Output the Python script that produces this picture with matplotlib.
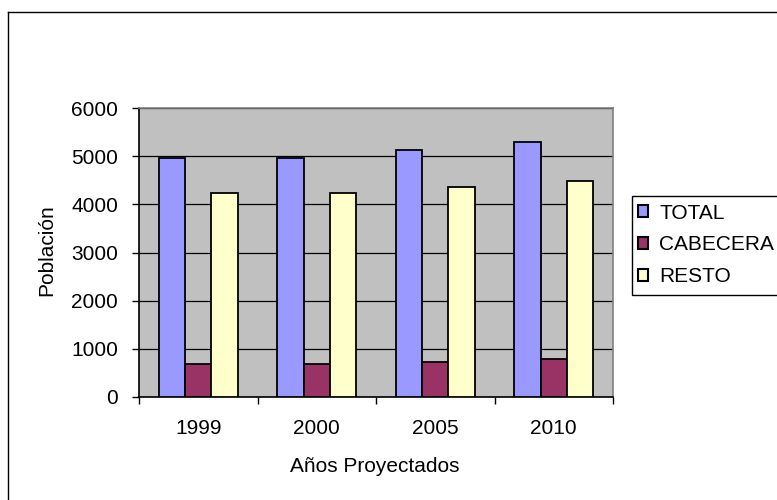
import matplotlib.pyplot as plt
from matplotlib.patches import Rectangle
from matplotlib.lines import Line2D
import numpy as np

plt.rcParams['font.family'] = ['Liberation Sans', 'DejaVu Sans']

years = ['1999', '2000', '2005', '2010']
total = [4958, 4958, 5118, 5284]
cabecera = [695, 695, 720, 784]
resto = [4245, 4245, 4350, 4488]

series = [('TOTAL', total, '#9999FF'),
          ('CABECERA', cabecera, '#993366'),
          ('RESTO', resto, '#FFFFCC')]

W, H = 777, 500
fs = 15

fig = plt.figure(figsize=(7.77, 5.0), dpi=100)
ax = fig.add_axes([139 / W, 1 - 397 / H, (613 - 139) / W, (397 - 108) / H])
ax.set_facecolor('#C0C0C0')

x = np.arange(len(years))
width = 1 / 4.5
for i, (name, vals, color) in enumerate(series):
    ax.bar(x + (i - 1) * width, vals, width, color=color, edgecolor='black',
           linewidth=1.3, label=name, zorder=3)

ax.set_xlim(-0.5, len(years) - 0.5)
ax.set_ylim(0, 6000)
ax.set_yticks(range(0, 6001, 1000))
ax.yaxis.grid(True, color='black', linewidth=0.9, zorder=1)
ax.set_axisbelow(True)

ax.set_xticks(x)
ax.set_xticklabels(years, fontsize=fs)
ax.set_xticks(np.arange(-0.5, len(years)), minor=True)
ax.tick_params(axis='x', which='major', length=0, pad=16)
ax.tick_params(axis='x', which='minor', length=5, width=1, direction='out')
ax.tick_params(axis='y', labelsize=fs, length=5, width=1, direction='out', pad=10)

for side in ['top', 'right']:
    ax.spines[side].set_color('#808080')
    ax.spines[side].set_linewidth(1.2)
for side in ['left', 'bottom']:
    ax.spines[side].set_color('black')
    ax.spines[side].set_linewidth(1.2)

ax.set_ylabel('Población', fontsize=fs)
ax.set_xlabel('Años Proyectados', fontsize=fs)
ax.yaxis.set_label_coords((47 - 139) / 474, (397 - 250) / 289)
ax.yaxis.label.set_va('center')
ax.xaxis.set_label_coords((375 - 139) / 474, (397 - 466) / 289)
ax.xaxis.label.set_va('center')

# outer chart border (right/bottom edges fall outside the image)
fig.add_artist(Line2D([8 / W, 1.2], [1 - 12 / H, 1 - 12 / H], color='black', linewidth=1.0))
fig.add_artist(Line2D([8 / W, 8 / W], [1 - 12 / H, -0.2], color='black', linewidth=1.0))

# legend frame drawn separately so its padding can match the original
fig.add_artist(Rectangle((632 / W, 1 - 295 / H), 200 / W, 99 / H,
                         transform=fig.transFigure, facecolor='white',
                         edgecolor='black', linewidth=1.0, zorder=2))
handles = [Rectangle((0, 0), 1, 1, facecolor=c, edgecolor='black', linewidth=1.5)
           for _, _, c in series]
leg = fig.legend(handles, [s[0] for s in series], loc='center left',
                 bbox_to_anchor=(638 / W, 1 - 245 / H), fontsize=fs,
                 frameon=False, handlelength=0.47, handleheight=0.5,
                 handletextpad=0.55, labelspacing=0.62, borderpad=0,
                 borderaxespad=0)
leg.set_zorder(3)

fig.savefig('out.png', dpi=100)
